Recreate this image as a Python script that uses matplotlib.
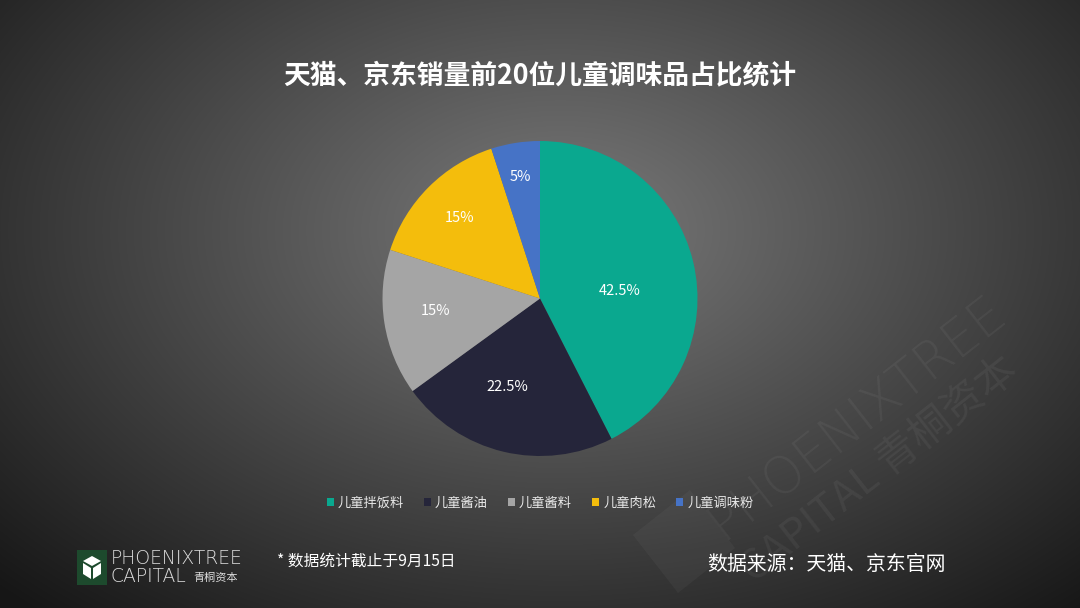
import numpy as np
import matplotlib
matplotlib.use('Agg')
import matplotlib.pyplot as plt
from matplotlib.patches import Rectangle, Polygon

plt.rcParams['font.family'] = ['Noto Sans CJK SC', 'DejaVu Sans']

# data
categories = ['儿童拌饭料', '儿童酱油', '儿童酱料', '儿童肉松', '儿童调味粉']
shares = [42.5, 22.5, 15, 15, 5]
colors = ['#0aa88f', '#25253a', '#a5a5a5', '#f4bd0c', '#4673c6']
title = '天猫、京东销量前20位儿童调味品占比统计'
note = '* 数据统计截止于9月15日'
source = '数据来源：天猫、京东官网'

fig = plt.figure(figsize=(10.8, 6.08), dpi=100)

# radial gradient background
bg = fig.add_axes([0, 0, 1, 1])
yy, xx = np.mgrid[0:608, 0:1080]
d = np.sqrt(((xx - 560) / 720.0) ** 2 + ((yy - 230) / 470.0) ** 2)
shade = np.clip(0.48 - 0.36 * d, 0.09, 1)
bg.imshow(np.dstack([shade] * 3), extent=[0, 1080, 608, 0], aspect='auto')
bg.set_xlim(0, 1080)
bg.set_ylim(608, 0)
bg.axis('off')

# watermark
wm_col = (1, 1, 1, 0.05)
bg.text(858, 418, 'PHOENIXTREE', fontsize=37, color=wm_col, rotation=38,
        ha='center', va='center', family='DejaVu Sans', fontweight='light')
bg.text(880, 470, 'CAPITAL 青桐资本', fontsize=30, color=wm_col, rotation=38,
        ha='center', va='center', fontweight='light')
bg.add_patch(Polygon([[633, 535], [690, 490], [735, 548], [678, 593]],
                     closed=True, facecolor=(1, 1, 1, 0.035), edgecolor='none'))

# title
fig.text(0.5, 1 - 75 / 608, title, ha='center', va='center', color='white',
         fontsize=19.3, fontweight='bold')

# pie
ax = fig.add_axes([382.5 / 1080, 152 / 608, 315 / 1080, 315 / 608])
wedges, texts, autotexts = ax.pie(shares, colors=colors, startangle=90,
                                  counterclock=False, autopct='%g%%',
                                  pctdistance=0.65,
                                  textprops=dict(color='white', fontsize=10.5))
label_r = [0.51, 0.6, 0.67, 0.72, 0.78]
label_shift = [-8.5, -7, -2, 0, 0]
for w, t, r, s in zip(wedges, autotexts, label_r, label_shift):
    ang = np.deg2rad((w.theta1 + w.theta2) / 2 + s)
    t.set_position((r * np.cos(ang), r * np.sin(ang)))
ax.set_xlim(-1, 1)
ax.set_ylim(-1, 1)
ax.set_aspect('equal')
ax.axis('off')

# legend
leg = fig.legend(wedges, categories, loc='center', bbox_to_anchor=(0.5, 1 - 503 / 608),
                 ncol=5, frameon=False, fontsize=9.5, labelcolor='#e8e8e8',
                 handlelength=0.55, handleheight=0.55, handletextpad=0.3,
                 columnspacing=1.5)

# logo
bg.add_patch(Rectangle((77, 550), 30, 35, facecolor='#1d4a2d', edgecolor='none'))
bg.add_patch(Polygon([[83, 561], [92, 556], [101, 561], [92, 566]], closed=True,
                     facecolor='white', edgecolor='none'))
bg.add_patch(Polygon([[83, 563], [91, 568], [91, 579], [83, 574]], closed=True,
                     facecolor='white', edgecolor='none'))
bg.add_patch(Polygon([[93, 568], [101, 563], [101, 574], [93, 579]], closed=True,
                     facecolor='white', edgecolor='none'))
bg.text(111, 558, 'PHOENIXTREE', fontsize=13.5, color='#dcdcdc', va='center',
        family='DejaVu Sans', fontweight='light')
bg.text(111, 577, 'CAPITAL', fontsize=13.5, color='#dcdcdc', va='center',
        family='DejaVu Sans', fontweight='light')
bg.text(193, 578, '青桐资本', fontsize=8, color='#dcdcdc', va='center')

# footnotes
bg.text(277, 561, note, fontsize=11.3, color='white', va='center', fontweight='medium')
bg.text(826, 564, source, fontsize=14.3, color='white', va='center', ha='center',
        fontweight='medium')

fig.savefig('out.png', dpi=100)
